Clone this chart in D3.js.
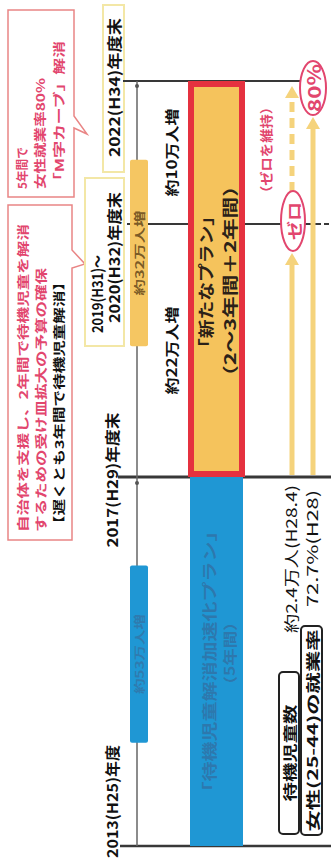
<!DOCTYPE html>
<html><head><meta charset="utf-8">
<script src="https://cdn.jsdelivr.net/npm/d3@7/dist/d3.min.js"></script>
<style>html,body{margin:0;padding:0;background:#fff;}svg{display:block;}</style>
</head><body>
<script>
// ---------- data ----------
const milestoneYears = [2013, 2018, 2021, 2023];               // fiscal-year boundaries
const milestoneLabels = ["2013(H25)年度", "2017(H29)年度末", "2020(H32)年度末", "2022(H34)年度末"];
const milestonePrefix = ["", "", "2019(H31)～", ""];
const planNames = ["「待機児童解消加速化プラン」", "「新たなプラン」"];
const planPeriods = ["（5年間）", "（2～3年間＋2年間）"];
const planStart = [2013, 2018];
const planEnd = [2018, 2023];
const capacityLabels = ["約53万人増", "約32万人増"];
const capacityStart = [2014.4, 2019.55];
const capacityEnd = [2016.8, 2021.9];
const increaseLabels = ["約22万人増", "約10万人増"];
const increaseFrom = [2018, 2021];
const increaseTo = [2021, 2023];
const indicatorNames = ["待機児童数", "女性(25-44)の就業率"];
const indicatorCurrent = ["約2.4万人(H28.4)", "72.7%(H28)"];
const indicatorTargets = ["ゼロ", "80%"];
const indicatorTargetYear = [2021, 2023];
const indicatorKeepNote = "（ゼロを維持）";
const callout1 = ["5年間で", "女性就業率80%", "「M字カーブ」解消"];
const callout2 = ["自治体を支援し、2年間で待機児童を解消", "するための受け皿拡大の予算の確保", "【遅くとも3年間で待機児童解消】"];

// ---------- setup ----------
const W = 331, H = 862;
const FONT = "'Noto Sans CJK JP','Noto Sans',sans-serif";
const svg = d3.select("body").append("svg").attr("width", W).attr("height", H);
svg.append("rect").attr("width", W).attr("height", H).attr("fill", "#fff");

const y = d3.scaleLinear().domain(milestoneYears).range([846, 477, 224, 81]);

const BLUE = "#1f97d4", YEL = "#f5c35c", RED = "#e5313f", PINK = "#e2466e", ARW = "#f5d37c";

function vtext(g, x, yy, str, o) {
  const t = g.append("text")
    .attr("transform", `translate(${x},${yy}) rotate(-90)`)
    .attr("text-anchor", o.anchor || "middle")
    .attr("dominant-baseline", "central")
    .style("font-family", FONT)
    .style("font-size", (o.size || 14) + "px")
    .style("font-weight", o.weight || 700)
    .attr("fill", o.fill || "#111")
    .text(str);
  if (o.len) t.attr("textLength", o.len).attr("lengthAdjust", "spacingAndGlyphs");
  if (o.opacity) t.attr("fill-opacity", o.opacity);
  return t;
}

// ---------- callouts ----------
const cg = svg.append("g");
cg.append("path").attr("d", "M8,10 H74 V116 L87,134 L74,128 V197 H8 Z")
  .attr("fill", "#fff").attr("stroke", "#e98585").attr("stroke-width", 1.5);
cg.append("path").attr("d", "M8,205 H72 V250 L85,264 L72,268 V540 H8 Z")
  .attr("fill", "#fff").attr("stroke", "#e98585").attr("stroke-width", 1.5);
const c1x = [21, 39, 58], c1len = [42, 111, 148];
callout1.forEach((s, i) => vtext(cg, c1x[i], 189, s, {anchor: "start", size: 12, fill: PINK, len: c1len[i]}));
const c2x = [22, 40, 58], c2len = [308, 264, 258];
callout2.forEach((s, i) => vtext(cg, c2x[i], 532, s, {anchor: "start", size: 12, fill: i === 2 ? "#111" : PINK, len: c2len[i]}));

// ---------- label boxes ----------
svg.append("rect").attr("x", 103).attr("y", 5).attr("width", 21).attr("height", 167)
  .attr("fill", "#fff").attr("stroke", "#f3e7a6").attr("stroke-width", 2);
svg.append("rect").attr("x", 85).attr("y", 178).attr("width", 39).attr("height", 168)
  .attr("fill", "#fff").attr("stroke", "#f3e7a6").attr("stroke-width", 2);

// ---------- milestone lines ----------
const lineX1 = [120, 118, 127, 123], lineX2 = [331, 331, 316, 300], lineW = [2.5, 3, 2, 2];
milestoneYears.forEach((t, i) => {
  svg.append("line").attr("x1", lineX1[i]).attr("x2", lineX2[i]).attr("y1", y(t)).attr("y2", y(t))
    .attr("stroke", "#383838").attr("stroke-width", lineW[i]);
});
svg.append("line").attr("x1", 316).attr("x2", 331).attr("y1", y(2021)).attr("y2", y(2021))
  .attr("stroke", "#383838").attr("stroke-width", 2).attr("stroke-dasharray", "5,3");

// thin vertical timeline
svg.append("line").attr("x1", 137).attr("x2", 137).attr("y1", y(2023)).attr("y2", y(2013))
  .attr("stroke", "#666").attr("stroke-width", 1.5);
[y(2023) + 5, y(2018) + 6].forEach(v => svg.append("circle").attr("cx", 137).attr("cy", v).attr("r", 2).attr("fill", "#555"));

// milestone labels
vtext(svg, 111, 858, milestoneLabels[0], {anchor: "start", size: 15, len: 113});
vtext(svg, 111, y(2018) + 3, milestoneLabels[1], {size: 15, len: 135});
vtext(svg, 96, 333, milestonePrefix[2], {anchor: "start", size: 15, len: 78});
vtext(svg, 113, 323, milestoneLabels[2], {anchor: "start", size: 15, len: 131});
vtext(svg, 113, 157, milestoneLabels[3], {anchor: "start", size: 15, len: 139});

// ---------- small capacity bars ----------
const smallCol = [BLUE, "#f5c662"], smallTxt = ["#3f5f8a", "#6b4d1e"], smallLen = [80, 85];
capacityLabels.forEach((lab, i) => {
  const y0 = y(capacityEnd[i]), y1 = y(capacityStart[i]);
  svg.append("rect").attr("x", 130).attr("y", y0).attr("width", 18).attr("height", y1 - y0)
    .attr("rx", 2).attr("fill", smallCol[i]);
  vtext(svg, 139, (y0 + y1) / 2, lab, {size: 11, fill: smallTxt[i], len: smallLen[i], opacity: i === 0 ? 0.5 : 0.9});
});

// ---------- big plan bars ----------
svg.append("rect").attr("x", 190).attr("y", y(planEnd[0])).attr("width", 53)
  .attr("height", y(planStart[0]) - y(planEnd[0])).attr("fill", BLUE);
svg.append("rect").attr("x", 191).attr("y", y(planEnd[1]) + 3).attr("width", 51)
  .attr("height", y(planStart[1]) - y(planEnd[1]) - 6).attr("fill", YEL)
  .attr("stroke", RED).attr("stroke-width", 6);
const mid0 = (y(planStart[0]) + y(planEnd[0])) / 2, mid1 = (y(planStart[1]) + y(planEnd[1])) / 2;
vtext(svg, 208, mid0, planNames[0], {size: 15, fill: "#3a5d8c", len: 280, opacity: 0.55});
vtext(svg, 229, mid0 - 8, planPeriods[0], {size: 14, fill: "#3a5d8c", len: 80, opacity: 0.55});
vtext(svg, 205, mid1 + 3, planNames[1], {size: 16, fill: "#2b2118", len: 150});
vtext(svg, 229, mid1 + 2, planPeriods[1], {size: 16, fill: "#2b2118", len: 212});

// increase labels
increaseLabels.forEach((lab, i) => {
  vtext(svg, 171, y((increaseFrom[i] + increaseTo[i]) / 2), lab, {size: 14, len: 88});
});

// ---------- indicator arrows ----------
const ag = svg.append("g");
function arrowHead(x, tip) {
  ag.append("path").attr("d", `M${x},${tip} L${x - 7},${tip + 12} L${x + 7},${tip + 12} Z`).attr("fill", ARW);
}
ag.append("line").attr("x1", 292).attr("x2", 292).attr("y1", y(2018) - 2).attr("y2", y(2021) + 40)
  .attr("stroke", ARW).attr("stroke-width", 5);
arrowHead(292, y(2021) + 29);
ag.append("line").attr("x1", 292).attr("x2", 292).attr("y1", y(2021) - 32).attr("y2", y(2023) + 15)
  .attr("stroke", ARW).attr("stroke-width", 5).attr("stroke-dasharray", "10,6");
arrowHead(292, y(2023) + 5);
ag.append("line").attr("x1", 313).attr("x2", 313).attr("y1", y(2018) - 2).attr("y2", y(2023) + 46)
  .attr("stroke", ARW).attr("stroke-width", 5);
arrowHead(313, y(2023) + 36);

// target ellipses
const ex = [293, 313], erx = [12, 13], ery = [30, 27], eoff = [-3, 7], elen = [38, 48], esz = [15, 18];
indicatorTargets.forEach((s, i) => {
  const cy = y(indicatorTargetYear[i]) + eoff[i];
  svg.append("ellipse").attr("cx", ex[i]).attr("cy", cy).attr("rx", erx[i]).attr("ry", ery[i])
    .attr("fill", "#fff").attr("stroke", PINK).attr("stroke-width", 2);
  vtext(svg, ex[i], cy, s, {size: esz[i], fill: PINK, len: elen[i]});
});
vtext(svg, 265, 150, indicatorKeepNote, {size: 13, fill: PINK, len: 100});

// current values
const curX = [290, 311], curStart = [633, 607], curLen = [148, 117];
indicatorCurrent.forEach((s, i) => vtext(svg, curX[i], curStart[i], s, {anchor: "start", size: 15, weight: 400, len: curLen[i]}));

// indicator name boxes
const bx = [279, 301], by = [672, 626], bw = [20, 21], bh = [162, 209], blen = [97, 202];
indicatorNames.forEach((s, i) => {
  svg.append("rect").attr("x", bx[i]).attr("y", by[i]).attr("width", bw[i]).attr("height", bh[i])
    .attr("rx", 4).attr("fill", "#fff").attr("stroke", "#222").attr("stroke-width", 2);
  vtext(svg, bx[i] + bw[i] / 2, by[i] + bh[i] / 2, s, {size: 14, len: blen[i]});
});
</script>
</body></html>
